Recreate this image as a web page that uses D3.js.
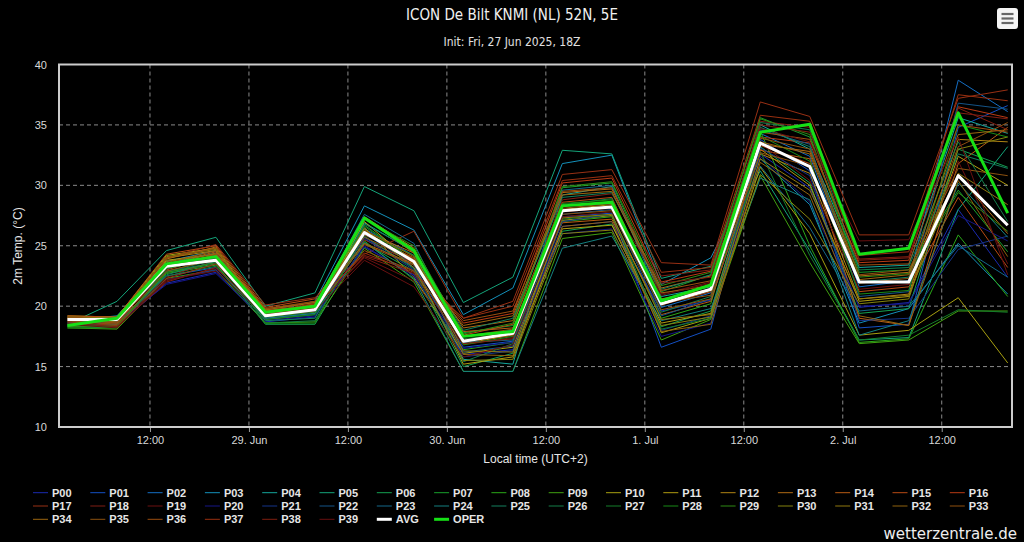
<html>
<head>
  <title>ICON De Bilt ensemble</title>
  <script src="https://d3js.org/d3.v7.min.js"></script>
  <style>
    body {
      margin: 0;
      background: #000;
      font-family: "Liberation Sans", Arial, sans-serif;
    }
    .grid line {
      stroke: #8a8a8a;
      stroke-dasharray: 4,3;
    }
    .tick-label {
      fill: #d8d8d8;
      font-size: 11px;
    }
    .legend text {
      fill: #e6e6e6;
      font-size: 11px;
      font-weight: bold;
    }
  </style>
</head>
<body>
  <script>
    // hours after 28 Jun 00:00 local time (UTC+2)
    var hours = [2, 8, 14, 20, 26, 32, 38, 44, 50, 56, 62, 68, 74, 80, 86, 92, 98, 104, 110, 116];

    var tickHours = [12, 24, 36, 48, 60, 72, 84, 96, 108];
    var tickLabels = ["12:00", "29. Jun", "12:00", "30. Jun", "12:00", "1. Jul", "12:00", "2. Jul", "12:00"];
    var yTicks = [10, 15, 20, 25, 30, 35, 40];

    var P00 = [18.9,18.4,21.9,22.8,18.7,19.1,24.9,22.6,16.0,16.4,26.6,27.0,19.6,20.5,32.6,29.8,19.9,20.3,28.0,22.4];
    var P01 = [19.1,18.7,22.5,23.2,19.0,19.4,25.7,23.2,16.6,17.1,27.4,27.7,16.6,18.1,33.8,31.2,18.2,18.5,34.8,36.6];
    var P02 = [19.0,19.0,23.1,24.0,19.3,19.8,26.4,24.2,17.5,18.0,28.3,28.5,19.9,21.1,34.3,32.4,21.6,22.1,38.7,36.1];
    var P03 = [18.8,19.2,23.7,24.6,19.6,20.4,28.3,26.3,19.3,21.5,31.8,32.5,21.8,24.0,32.2,28.4,18.6,19.8,25.2,21.0];
    var P04 = [18.6,18.9,23.4,24.2,19.1,19.6,26.9,24.5,15.6,15.2,29.2,29.9,20.8,21.6,35.0,33.0,23.2,23.4,35.6,34.3];
    var P05 = [18.5,20.4,24.6,25.7,20.0,21.1,29.9,27.9,20.3,22.4,32.9,32.6,22.3,23.3,31.2,24.6,17.2,17.4,28.0,33.2];
    var P06 = [18.3,18.2,22.8,23.5,18.5,18.5,25.2,22.9,15.0,16.1,26.2,26.8,18.3,19.6,33.2,30.2,19.4,19.8,33.0,31.5];
    var P07 = [18.7,18.6,23.2,24.1,19.2,19.9,26.7,23.8,17.8,18.4,29.8,30.2,21.2,22.6,35.6,34.0,22.8,23.0,29.6,24.5];
    var P08 = [18.4,18.3,22.7,23.4,18.9,19.3,25.4,22.2,16.4,17.0,27.0,27.4,19.0,20.2,34.5,25.0,17.0,17.3,25.9,20.8];
    var P09 = [18.2,18.1,22.3,23.0,18.6,18.7,24.8,22.0,14.6,14.6,25.6,26.1,17.2,18.9,30.8,23.6,16.9,17.2,19.6,19.6];
    var P10 = [19.2,19.1,24.2,24.8,19.4,20.1,26.5,22.4,16.1,16.6,27.1,27.5,17.8,19.0,31.5,26.0,17.6,18.0,20.7,15.3];
    var P11 = [19.0,18.8,23.8,24.3,19.2,19.7,27.0,23.5,15.2,15.8,26.4,26.7,18.6,19.4,33.0,30.0,20.4,20.8,32.4,30.0];
    var P12 = [18.9,18.9,24.0,24.6,19.5,20.2,27.4,24.8,16.9,17.6,28.0,28.4,20.6,21.4,32.6,31.0,20.6,21.0,33.8,33.6];
    var P13 = [19.1,19.0,23.9,24.9,19.7,20.0,26.2,24.4,18.2,18.8,29.4,29.7,21.5,22.5,33.4,32.8,22.5,22.8,30.8,26.0];
    var P14 = [18.8,18.5,23.5,24.5,19.8,20.3,25.9,24.0,17.9,18.2,26.9,27.2,19.3,20.4,32.9,32.2,19.0,18.4,31.8,34.8];
    var P15 = [19.2,19.1,24.3,25.0,19.9,20.6,26.0,23.9,17.6,18.5,28.6,29.0,20.1,21.2,33.3,31.8,21.2,21.6,29.0,23.2];
    var P16 = [18.9,18.7,23.0,24.2,19.5,19.8,25.5,23.6,18.6,19.4,30.2,30.6,22.0,22.9,34.0,33.5,23.6,23.8,36.5,35.6];
    var P17 = [19.1,18.8,24.0,25.1,20.1,20.7,24.3,26.2,19.0,20.4,30.9,31.3,23.6,23.4,36.9,35.7,25.9,25.9,37.2,37.9];
    var P18 = [18.7,18.6,22.4,23.8,19.6,20.4,24.2,23.0,17.2,17.9,28.8,29.3,22.5,23.0,35.3,34.8,23.8,24.0,36.0,35.5];
    var P19 = [18.6,18.3,22.1,23.1,19.4,19.9,24.0,22.1,16.8,17.4,27.8,28.1,21.0,22.0,33.5,30.4,21.4,21.8,32.0,23.5];
    var P20 = [18.9,18.6,21.8,22.7,18.8,19.2,25.0,22.5,16.5,17.0,26.0,26.4,17.5,18.6,32.4,28.6,20.0,20.2,27.5,25.4];
    var P21 = [19.0,18.7,22.2,23.0,19.0,19.5,25.6,23.0,15.8,16.3,27.0,27.6,18.0,19.2,33.1,30.8,18.8,19.0,24.7,25.8];
    var P22 = [18.8,18.9,22.9,23.6,19.2,19.6,26.0,23.4,16.2,16.7,27.6,28.0,19.2,20.6,34.6,33.4,20.8,21.2,36.8,36.3];
    var P23 = [18.6,19.0,23.5,24.4,19.4,20.0,27.6,25.2,17.0,17.2,29.6,30.0,20.4,21.8,31.6,26.5,19.6,20.0,25.0,22.4];
    var P24 = [18.5,18.8,23.3,24.1,19.0,19.4,25.3,22.3,14.6,14.6,24.8,25.8,18.8,19.8,30.6,28.8,17.6,18.8,30.2,25.7];
    var P25 = [18.4,18.5,22.6,23.7,18.8,19.0,26.8,24.6,18.0,19.0,29.0,29.4,21.4,22.6,34.8,33.2,22.0,22.4,32.6,31.4];
    var P26 = [18.3,18.4,22.5,23.3,18.6,18.8,25.8,23.1,15.4,16.9,28.4,28.9,19.5,20.8,35.2,34.6,23.0,23.2,33.6,27.0];
    var P27 = [18.4,18.3,22.9,23.8,18.9,19.3,26.6,23.7,17.3,17.7,27.2,27.6,18.1,19.0,32.8,24.2,17.2,17.6,19.7,19.5];
    var P28 = [18.2,18.2,23.1,24.0,18.6,18.6,26.1,24.2,16.8,17.5,28.5,28.8,20.3,21.3,34.1,32.0,21.0,21.3,35.0,34.0];
    var P29 = [18.3,18.4,22.8,23.6,19.1,19.5,27.2,25.0,17.7,18.6,29.9,30.3,21.7,22.8,35.5,34.2,22.4,22.7,29.4,26.2];
    var P30 = [19.1,19.0,24.1,24.7,19.3,19.9,26.4,23.2,15.5,15.6,26.0,26.3,18.4,19.1,30.9,27.2,20.2,20.6,33.0,34.0];
    var P31 = [19.0,18.9,23.7,24.3,19.2,19.7,27.3,24.4,16.3,16.2,27.3,27.6,18.9,19.3,32.2,29.6,20.6,20.9,31.0,28.4];
    var P32 = [18.9,18.6,23.6,24.6,19.6,20.0,26.3,24.1,16.0,15.9,26.6,27.0,17.9,18.5,31.9,29.2,19.2,18.4,30.4,24.1];
    var P33 = [19.1,18.9,24.0,24.8,19.8,20.4,25.7,23.8,17.1,17.6,27.6,27.9,19.7,20.6,32.7,31.6,21.9,22.3,33.2,35.2];
    var P34 = [19.0,18.7,23.4,24.4,19.7,20.3,25.2,23.5,18.4,19.2,29.2,29.5,21.1,21.7,33.6,32.6,22.2,22.6,34.2,34.6];
    var P35 = [18.8,18.5,22.9,23.9,19.4,19.8,24.6,22.9,17.5,18.1,28.1,28.5,20.3,20.9,33.9,33.0,22.6,23.0,31.4,30.8];
    var P36 = [19.0,18.6,23.2,24.3,19.6,20.0,25.1,23.4,18.8,19.6,29.5,29.8,21.3,22.1,34.4,33.8,23.4,23.5,35.0,34.4];
    var P37 = [18.7,18.4,22.3,23.5,19.5,20.2,24.4,22.8,19.0,20.0,30.4,30.8,22.8,23.2,35.8,35.3,24.2,24.5,37.5,37.0];
    var P38 = [18.6,18.3,22.0,23.2,19.3,19.9,24.1,22.7,16.9,17.3,27.9,28.2,21.9,22.4,35.0,34.4,23.9,24.1,36.4,34.6];
    var P39 = [18.5,18.2,22.2,22.9,19.2,19.6,23.8,21.6,15.8,16.8,27.4,27.8,20.9,21.9,34.7,33.6,25.4,25.5,34.0,22.6];

    var AVG  = [18.9,18.9,23.3,23.8,19.2,19.7,26.1,23.7,17.1,17.75,27.9,28.2,20.2,21.4,33.5,31.55,22.0,22.0,30.8,26.7];
    var OPER = [18.4,19.0,23.5,24.1,19.5,20.0,27.3,24.6,17.5,17.9,28.3,28.6,20.45,21.75,34.4,35.05,24.3,24.8,36.0,27.7];

    var members = [P00,P01,P02,P03,P04,P05,P06,P07,P08,P09,P10,P11,P12,P13,P14,P15,P16,P17,P18,P19,
                   P20,P21,P22,P23,P24,P25,P26,P27,P28,P29,P30,P31,P32,P33,P34,P35,P36,P37,P38,P39];

    var memberColors = [
      "#1a2ab0","#1450c4","#146ec4","#1490ba","#14a69c","#14a47a","#14a050","#18a02c","#2aa818","#40a010",
      "#a8a010","#b09c10","#b08414","#b06a14","#b85c14","#b84a14","#b83a14","#983014","#801e14","#6c1010",
      "#161688","#14348a","#145488","#14688a","#148080","#14805e","#147e48","#147e2a","#188a16","#2e8a14",
      "#84820e","#90780e","#90620e","#90500e","#9c6610","#8c5210","#9c4e10","#9a3010","#801e10","#681010"];

    var width = 1024,
        height = 542;

    var plotL = 59, plotR = 1012, plotT = 64.5, plotB = 427;

    var svg = d3.select("body")
      .append("svg")
      .attr("width", width)
      .attr("height", height)
      .style("display", "block");

    svg.append("rect").attr("width", width).attr("height", height).attr("fill", "#000");

    var x = d3.scaleLinear().domain([0.97, 116.52]).range([plotL, plotR]);
    var y = d3.scaleLinear().domain([10, 40]).range([plotB, plotT]);

    // titles
    svg.append("text")
      .attr("x", 512).attr("y", 20)
      .attr("text-anchor", "middle")
      .style("font-family", "'Liberation Sans Narrow', 'DejaVu Sans Condensed', sans-serif")
      .style("font-stretch", "condensed")
      .style("font-size", "15px")
      .attr("fill", "#f0f0f0")
      .text("ICON De Bilt KNMI (NL) 52N, 5E");

    svg.append("text")
      .attr("x", 512).attr("y", 46)
      .attr("text-anchor", "middle")
      .style("font-family", "'Liberation Sans Narrow', 'DejaVu Sans Condensed', sans-serif")
      .style("font-stretch", "condensed")
      .style("font-size", "12px")
      .attr("fill", "#e0e0e0")
      .text("Init: Fri, 27 Jun 2025, 18Z");

    // grid
    var grid = svg.append("g").attr("class", "grid");
    grid.selectAll(".h")
      .data(yTicks.filter(function(d) { return d > 10 && d < 40; }))
      .enter().append("line")
      .attr("x1", plotL).attr("x2", plotR)
      .attr("y1", function(d) { return y(d); })
      .attr("y2", function(d) { return y(d); });
    grid.selectAll(".v")
      .data(tickHours)
      .enter().append("line")
      .attr("x1", function(d) { return x(d); })
      .attr("x2", function(d) { return x(d); })
      .attr("y1", plotT).attr("y2", plotB);

    // x axis
    var xAxis = svg.append("g")
      .attr("transform", "translate(0," + plotB + ")")
      .call(d3.axisBottom(x)
        .tickValues(tickHours)
        .tickSize(5)
        .tickFormat(function(d, i) { return tickLabels[i]; }));
    xAxis.select(".domain").remove();
    xAxis.selectAll(".tick line").attr("stroke", "#999");
    xAxis.selectAll(".tick text")
      .attr("class", "tick-label")
      .attr("y", 9)
      .style("font-family", "'Liberation Sans', sans-serif");

    svg.append("text")
      .attr("x", (plotL + plotR) / 2).attr("y", 463)
      .attr("text-anchor", "middle")
      .attr("fill", "#e6e6e6")
      .style("font-size", "12px")
      .text("Local time (UTC+2)");

    // y axis
    var yAxis = svg.append("g")
      .attr("transform", "translate(" + (plotL - 12) + ",0)")
      .call(d3.axisLeft(y).tickValues(yTicks).tickSize(0));
    yAxis.select(".domain").remove();
    yAxis.selectAll(".tick text")
      .attr("class", "tick-label")
      .attr("x", 0)
      .style("font-family", "'Liberation Sans', sans-serif");

    svg.append("text")
      .attr("transform", "translate(22,246) rotate(-90)")
      .attr("text-anchor", "middle")
      .attr("fill", "#e6e6e6")
      .style("font-size", "12px")
      .text("2m Temp. (°C)");

    // series
    var series = members.map(function(vals, i) {
      return { name: "P" + (i < 10 ? "0" + i : i), values: vals, color: memberColors[i], w: 1 };
    });
    series.push({ name: "AVG", values: AVG, color: "#ffffff", w: 3 });
    series.push({ name: "OPER", values: OPER, color: "#16e016", w: 3 });

    var line = d3.line()
      .x(function(d, i) { return x(hours[i]); })
      .y(function(d) { return y(d); });

    svg.append("defs").append("clipPath").attr("id", "plot")
      .append("rect").attr("x", plotL).attr("y", plotT)
      .attr("width", plotR - plotL).attr("height", plotB - plotT);

    svg.append("g")
      .attr("clip-path", "url(#plot)")
      .selectAll("path")
      .data(series)
      .enter().append("path")
      .attr("fill", "none")
      .attr("stroke", function(d) { return d.color; })
      .attr("stroke-width", function(d) { return d.w; })
      .attr("stroke-linejoin", "round")
      .attr("d", function(d) { return line(d.values); });

    // frame
    svg.append("rect")
      .attr("x", plotL).attr("y", plotT)
      .attr("width", plotR - plotL).attr("height", plotB - plotT)
      .attr("fill", "none")
      .attr("stroke", "#cccccc")
      .attr("stroke-width", 2);

    // legend
    var legend = svg.append("g").attr("class", "legend");
    var item = legend.selectAll("g")
      .data(series)
      .enter().append("g")
      .attr("transform", function(d, i) {
        var col = i % 17, row = Math.floor(i / 17);
        return "translate(" + (33 + col * 57.3) + "," + (492.7 + row * 13.3) + ")";
      });
    item.append("line")
      .attr("x1", 0).attr("x2", 15)
      .attr("stroke", function(d) { return d.color; })
      .attr("stroke-width", function(d) { return d.w; });
    item.append("text")
      .attr("x", 19).attr("dy", "0.36em")
      .text(function(d) { return d.name; });

    // credit
    svg.append("text")
      .attr("x", 1017).attr("y", 539)
      .attr("text-anchor", "end")
      .attr("fill", "#eeeeee")
      .style("font-family", "'DejaVu Sans', sans-serif")
      .style("font-size", "15px")
      .text("wetterzentrale.de");

    // menu button
    var menu = svg.append("g").attr("transform", "translate(997,8)");
    menu.append("rect")
      .attr("width", 21).attr("height", 21).attr("rx", 3)
      .attr("fill", "#f4f4f4");
    menu.selectAll("line")
      .data([6, 10.5, 15])
      .enter().append("line")
      .attr("x1", 4.5).attr("x2", 16.5)
      .attr("y1", function(d) { return d; })
      .attr("y2", function(d) { return d; })
      .attr("stroke", "#666")
      .attr("stroke-width", 2.2);
  </script>
</body>
</html>
